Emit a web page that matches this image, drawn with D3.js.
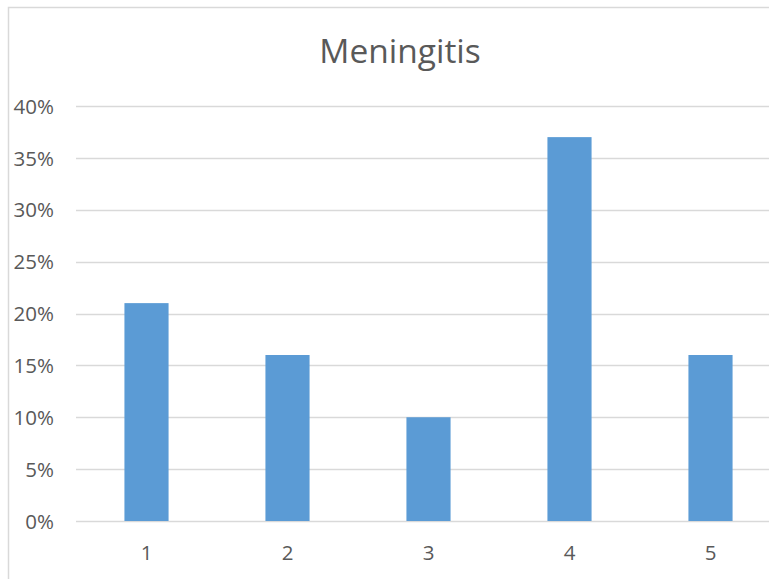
<!DOCTYPE html>
<html>
<head>
<meta charset="utf-8">
<script src="https://cdn.jsdelivr.net/npm/d3@7"></script>
<style>
  html, body { margin: 0; padding: 0; background: #fff; }
  svg { display: block; }
  text { font-family: "Open Sans", Lato, sans-serif; fill: #595959; }
</style>
</head>
<body>
<svg id="chart" width="769" height="579"></svg>
<script>
// Chart data
const title = "Meningitis";
const categories = ["1", "2", "3", "4", "5"];
const values = [0.21, 0.16, 0.10, 0.37, 0.16];
const yTicks = [0, 0.05, 0.10, 0.15, 0.20, 0.25, 0.30, 0.35, 0.40];

const svg = d3.select("#chart");

// Chart frame (extends past the right and bottom edges)
svg.append("rect")
  .attr("x", 8.5).attr("y", 7.5)
  .attr("width", 790).attr("height", 600)
  .attr("fill", "#fff")
  .attr("stroke", "#d9d9d9")
  .attr("stroke-width", 1.5);

const plot = { left: 76, right: 781, top: 106, bottom: 521 };

const x = d3.scaleBand()
  .domain(categories)
  .range([plot.left, plot.right])
  .paddingInner(0.687)
  .paddingOuter(0.3435);

const y = d3.scaleLinear()
  .domain([0, 0.40])
  .range([plot.bottom, plot.top]);

// Gridlines
svg.append("g")
  .selectAll("line")
  .data(yTicks)
  .join("line")
  .attr("x1", plot.left).attr("x2", plot.right)
  .attr("y1", d => Math.round(y(d)) + 0.5)
  .attr("y2", d => Math.round(y(d)) + 0.5)
  .attr("stroke", "#d9d9d9")
  .attr("stroke-width", 1.3);

// Y axis labels
const yAxis = d3.axisLeft(y)
  .tickValues(yTicks)
  .tickFormat(d3.format(".0%"))
  .tickSize(0)
  .tickPadding(0);
const gy = svg.append("g")
  .attr("transform", `translate(54,0)`)
  .call(yAxis);
gy.select(".domain").remove();
gy.attr("font-family", null).attr("font-size", null);
gy.selectAll("text")
  .style("font-size", "20.5px")
  .attr("fill", "#595959")
  .attr("dy", "0.35em");

// Bars
svg.append("g")
  .selectAll("rect")
  .data(values)
  .join("rect")
  .attr("x", (d, i) => x(categories[i]))
  .attr("width", x.bandwidth())
  .attr("y", d => y(d))
  .attr("height", d => plot.bottom - y(d))
  .attr("fill", "#5b9bd5");

// X axis labels
const xAxis = d3.axisBottom(x).tickSize(0).tickPadding(0);
const gx = svg.append("g")
  .attr("transform", `translate(0,560)`)
  .call(xAxis);
gx.select(".domain").remove();
gx.attr("font-family", null).attr("font-size", null);
gx.selectAll("text")
  .style("font-size", "20.5px")
  .attr("fill", "#595959")
  .attr("dy", 0);

// Title
svg.append("text")
  .attr("x", 400)
  .attr("y", 63)
  .attr("text-anchor", "middle")
  .style("font-size", "33.5px")
  .text(title);
</script>
</body>
</html>
